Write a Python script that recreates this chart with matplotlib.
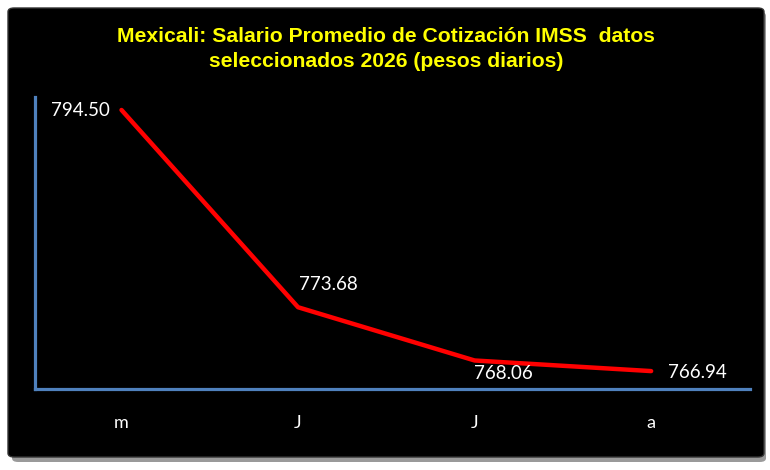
import matplotlib.pyplot as plt
from matplotlib.patches import FancyBboxPatch

# datos
meses = ["m", "J", "J", "a"]
salario = [794.50, 773.68, 768.06, 766.94]
etiquetas = ["794.50", "773.68", "768.06", "766.94"]

W, H = 770, 470
fig = plt.figure(figsize=(W / 100, H / 100), dpi=100)
fig.patch.set_facecolor("white")

# sombra y marco negro
sombra = FancyBboxPatch((12 / W, 1 - 462 / H), 754 / W, 450 / H,
                        boxstyle="round,pad=0,rounding_size=0.008",
                        transform=fig.transFigure, facecolor="#9a9a9a",
                        edgecolor="none", zorder=-2)
marco = FancyBboxPatch((8 / W, 1 - 457 / H), 756 / W, 449 / H,
                       boxstyle="round,pad=0,rounding_size=0.008",
                       transform=fig.transFigure, facecolor="black",
                       edgecolor="#333333", linewidth=1, zorder=-1)
fig.patches.extend([sombra, marco])

ax = fig.add_axes([35 / W, 1 - 389 / H, 715 / W, 292 / H])
ax.set_zorder(2)
ax.set_facecolor("none")
x = list(range(len(meses)))
ax.plot(x, salario, color="#ff0000", linewidth=3.2, solid_capstyle="round",
        solid_joinstyle="round")
ax.set_xlim(-0.49, 3.56)
ax.set_ylim(765.05, 795.87)

for s in ["top", "right"]:
    ax.spines[s].set_visible(False)
for s in ["left", "bottom"]:
    ax.spines[s].set_color("#4f81bd")
    ax.spines[s].set_linewidth(2.3)

ax.set_yticks([])
ax.set_xticks(x)
ax.set_xticklabels(meses, color="white", fontsize=13, family="Lato")
ax.tick_params(axis="x", length=0, pad=19)

# posiciones de las etiquetas (pixeles respecto al punto)
desp = [(-41, -1), (30, 23), (29, -13), (46, -1)]
for xi, yi, t, d in zip(x, salario, etiquetas, desp):
    ax.annotate(t, (xi, yi), xytext=d, textcoords="offset pixels",
                ha="center", va="center", color="white", fontsize=13.5,
                family="Lato")

fig.text(386 / W, 1 - 49 / H,
         "Mexicali: Salario Promedio de Cotización IMSS  datos\n"
         "seleccionados 2026 (pesos diarios)",
         ha="center", va="center", color="#ffff00", fontsize=15.2,
         fontweight="bold", family="Liberation Sans", linespacing=1.4)

fig.savefig("out.png", dpi=100, facecolor=fig.get_facecolor())
